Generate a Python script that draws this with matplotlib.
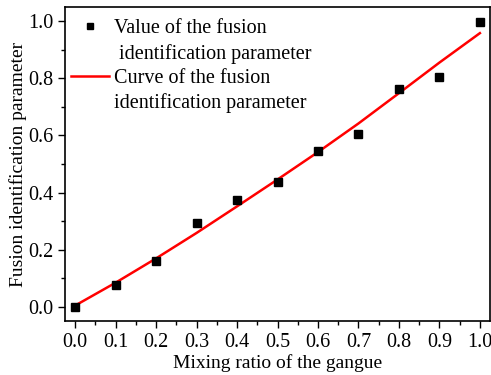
import matplotlib.pyplot as plt
from matplotlib.lines import Line2D
from matplotlib.ticker import MultipleLocator

plt.rcParams['font.family'] = 'Liberation Serif'

# measured values
ratio = [0.0, 0.1, 0.2, 0.3, 0.4, 0.5, 0.6, 0.7, 0.8, 0.9, 1.0]
param = [0.0, 0.078, 0.162, 0.294, 0.376, 0.436, 0.545, 0.604, 0.761, 0.804, 0.998]

# fitted curve
curve_x = [0.0, 0.1, 0.2, 0.3, 0.4, 0.5, 0.6, 0.7, 0.8, 0.9, 1.0]
curve_y = [0.005, 0.085, 0.170, 0.259, 0.352, 0.446, 0.542, 0.642, 0.748, 0.855, 0.958]

fig = plt.figure(figsize=(4.91, 3.75), dpi=100)
ax = fig.add_axes([0.1324, 0.144, 0.8656, 0.837])

ax.plot(curve_x, curve_y, color='red', lw=1.8)
ax.plot(ratio, param, 's', color='black', ms=5.2)

ax.set_xlim(-0.025, 1.025)
ax.set_ylim(-0.049, 1.049)
ax.xaxis.set_major_locator(MultipleLocator(0.1))
ax.xaxis.set_minor_locator(MultipleLocator(0.05))
ax.yaxis.set_major_locator(MultipleLocator(0.2))
ax.yaxis.set_minor_locator(MultipleLocator(0.1))
ax.xaxis.set_major_formatter('{x:.1f}')
ax.yaxis.set_major_formatter('{x:.1f}')
ax.tick_params(which='both', direction='out', top=False, right=False, labelsize=14.5, width=1)
ax.tick_params(which='major', length=5)
ax.tick_params(which='minor', length=3)
for s in ax.spines.values():
    s.set_linewidth(1.2)

ax.set_xlabel('Mixing ratio of the gangue', fontsize=14, labelpad=2)
ax.set_ylabel('Fusion identification parameter', fontsize=14, labelpad=1)

blank = Line2D([], [], linestyle='none')
handles = [Line2D([], [], marker='s', color='black', ms=4.2, linestyle='none'), blank,
           Line2D([], [], color='red', lw=1.8), blank]
labels = ['Value of the fusion', ' identification parameter',
          'Curve of the fusion', 'identification parameter']
ax.legend(handles, labels, loc='upper left', frameon=False, fontsize=14.5,
          handlelength=1.9, handletextpad=0.25, labelspacing=0.27,
          borderaxespad=0.0, borderpad=0.3, bbox_to_anchor=(0.0, 0.981))

fig.savefig('out.png', dpi=100)
